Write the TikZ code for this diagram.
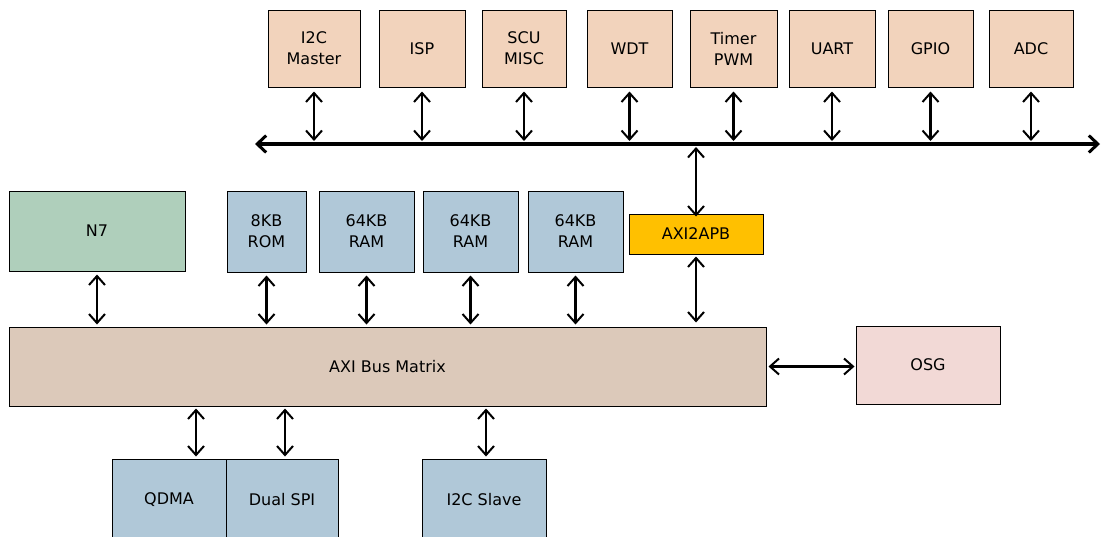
\documentclass[tikz,border=0pt]{standalone}
\usepackage{fontspec}
\setmainfont{DejaVu Sans}
\usetikzlibrary{arrows.meta}
\definecolor{peach}{HTML}{F2D3BC}
\definecolor{memblue}{HTML}{B0C8D8}
\definecolor{coregreen}{HTML}{AFCFBB}
\definecolor{axitan}{HTML}{DCC9BA}
\definecolor{osgpink}{HTML}{F2D9D6}
\definecolor{apbyellow}{HTML}{FFC000}
\tikzset{
  blk/.style={draw=black, line width=1pt, align=center, inner sep=0pt,
    font=\fontsize{16}{21}\selectfont},
  arr/.style={line width=2.6pt, {Straight Barb[length=9pt,width=16pt,line width=2pt]}-{Straight Barb[length=9pt,width=16pt,line width=2pt]}},
  busline/.style={line width=4.5pt, {Straight Barb[length=9pt,width=17pt,line width=3pt]}-{Straight Barb[length=9pt,width=17pt,line width=3pt]}}
}
\begin{document}
\begin{tikzpicture}[x=1pt,y=-1pt]
\useasboundingbox (0,0) rectangle (1102,536);
% top peripherals
\node[blk, fill=peach, minimum width=92pt, minimum height=77pt] (i2cm) at (314,48.5) {I2C\\Master};
\node[blk, fill=peach, minimum width=86pt, minimum height=77pt] (isp) at (422,48.5) {ISP};
\node[blk, fill=peach, minimum width=84pt, minimum height=77pt] (scu) at (524,48.5) {SCU\\MISC};
\node[blk, fill=peach, minimum width=85pt, minimum height=77pt] (wdt) at (629.5,48.5) {WDT};
\node[blk, fill=peach, minimum width=87pt, minimum height=77pt] (timer) at (733.5,48.5) {Timer\\PWM};
\node[blk, fill=peach, minimum width=86pt, minimum height=77pt] (uart) at (832,48.5) {UART};
\node[blk, fill=peach, minimum width=85pt, minimum height=77pt] (gpio) at (930.5,48.5) {GPIO};
\node[blk, fill=peach, minimum width=84pt, minimum height=77pt] (adc) at (1031,48.5) {ADC};
% APB bus
\coordinate (busL) at (255,144);
\coordinate (busR) at (1100,144);
\draw[busline] (busL) -- (busR);
% middle row
\node[blk, fill=coregreen, minimum width=176pt, minimum height=80pt] (n7) at (97,231) {N7};
\node[blk, fill=memblue, minimum width=79pt, minimum height=81pt] (rom) at (266.5,231.5) {8KB\\ROM};
\node[blk, fill=memblue, minimum width=95pt, minimum height=81pt] (ram1) at (366.5,231.5) {64KB\\RAM};
\node[blk, fill=memblue, minimum width=95pt, minimum height=81pt] (ram2) at (470.5,231.5) {64KB\\RAM};
\node[blk, fill=memblue, minimum width=95pt, minimum height=81pt] (ram3) at (575.5,231.5) {64KB\\RAM};
\node[blk, fill=apbyellow, minimum width=134pt, minimum height=40pt] (apb) at (696,234) {AXI2APB};
% AXI matrix and OSG
\node[blk, fill=axitan, minimum width=757pt, minimum height=79pt] (axi) at (387.5,366.5) {AXI Bus Matrix};
\node[blk, fill=osgpink, minimum width=144pt, minimum height=78pt] (osg) at (928,365) {OSG};
% bottom row
\node[blk, fill=memblue, minimum width=114pt, minimum height=82pt] (qdma) at (169,500) {QDMA};
\node[blk, fill=memblue, minimum width=112pt, minimum height=82pt] (spi) at (282,500) {Dual SPI};
\node[blk, fill=memblue, minimum width=124pt, minimum height=82pt] (i2cs) at (484,500) {I2C Slave};
% peripheral arrows
\foreach \n in {i2cm,isp,scu,wdt,timer,uart,gpio,adc}
  \draw[arr] ([yshift=-4pt]\n.south) -- ([yshift=3pt]\n.south |- busL);
\draw[arr] ([yshift=-3pt]apb.north) -- ([yshift=-3pt]apb.north |- busL);
\draw[arr] ([yshift=-2pt]apb.south) -- ([yshift=4pt]apb.south |- axi.north);
% master/slave arrows to matrix
\foreach \n in {n7,rom,ram1,ram2,ram3}
  \draw[arr] ([yshift=-3pt]\n.south) -- ([yshift=2pt]\n.south |- axi.north);
\draw[arr] ([xshift=27pt,yshift=2pt]qdma.north) -- ([xshift=27pt,yshift=-2pt]qdma.north |- axi.south);
\draw[arr] ([xshift=3pt,yshift=2pt]spi.north) -- ([xshift=3pt,yshift=-2pt]spi.north |- axi.south);
\draw[arr] ([xshift=2pt,yshift=2pt]i2cs.north) -- ([xshift=2pt,yshift=-2pt]i2cs.north |- axi.south);
\draw[arr] ([xshift=2pt]axi.east) -- ([xshift=-1pt]axi.east -| osg.west);
\end{tikzpicture}
\end{document}
